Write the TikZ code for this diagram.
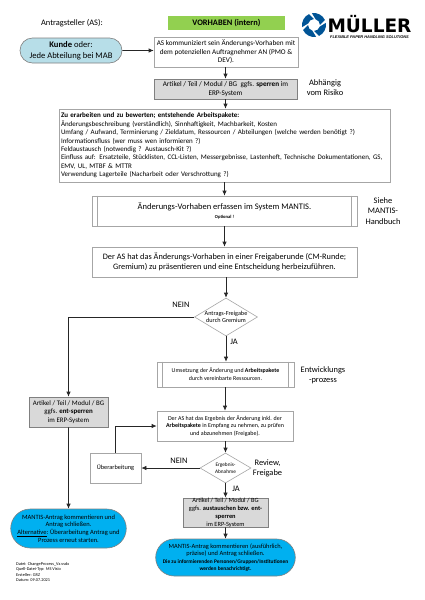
\documentclass[tikz,border=0pt]{standalone}
\usepackage{fontspec}
\setmainfont{Carlito}
\newfontfamily\logofont{DejaVu Sans}
\newfontfamily\sloganfont{Liberation Sans}
\usetikzlibrary{shapes.geometric,shapes.misc,arrows.meta}
\definecolor{boxgrey}{RGB}{166,166,166}
\definecolor{lockgrey}{RGB}{217,217,217}
\definecolor{startblue}{RGB}{183,222,232}
\definecolor{endblue}{RGB}{0,176,240}
\definecolor{headgreen}{RGB}{146,208,80}
\definecolor{logoblue}{RGB}{0,84,150}
\tikzset{
  stepbox/.style={draw=boxgrey, line width=0.7pt, fill=white, align=center, inner sep=1pt, font=\fontsize{7.2}{8.6}\selectfont},
  lockbox/.style={stepbox, fill=lockgrey, draw=gray},
  decision/.style={diamond, draw=boxgrey, line width=0.6pt, fill=white, inner sep=0pt},
  startend/.style={rounded rectangle, draw=gray, line width=0.6pt, align=center, inner sep=1pt},
  remark/.style={align=center, font=\fontsize{8.4}{10.2}\selectfont},
  flow/.style={-{Latex[length=5pt,width=4.5pt]}, line width=0.7pt, black!85}
}
\begin{document}
\begin{tikzpicture}[x=1pt,y=-1pt]
\useasboundingbox (0,0) rectangle (424,600);

% header
\node (applicant) at (72,23.5) [remark] {Antragsteller (AS):};
\node (title) at (226.5,23) [fill=headgreen, minimum width=117pt, minimum height=14pt, inner sep=0pt, font=\fontsize{8.4}{9}\selectfont\bfseries] {VORHABEN (intern)};

% logo
\begin{scope}[shift={(314,25)}, yscale=-1]
\foreach \ang in {0,90,180,270}{
  \fill [logoblue, rotate=\ang] (100:12) arc (100:25:12) -- (0:6) arc (0:75:6) -- cycle;
}
\end{scope}
\node (brand) at (369.5,32) [anchor=base, inner sep=0pt, font=\logofont\fontsize{18.5}{20}\selectfont\bfseries] {MÜLLER};
\node (slogan) at (369.5,38.5) [anchor=base, inner sep=0pt, font=\sloganfont\fontsize{3.9}{5}\selectfont\bfseries\itshape] {FLEXIBLE PAPER HANDLING SOLUTIONS};

% main column
\node (customer) at (71,50.5) [startend, fill=startblue, minimum width=104pt, minimum height=25pt, font=\fontsize{8.6}{10.5}\selectfont] {\textbf{Kunde} oder:\\Jede Abteilung bei MAB};
\node (inform) at (226,52) [stepbox, minimum width=144pt, minimum height=30pt] {AS kommuniziert sein Änderungs-Vorhaben mit\\dem potenziellen Auftragnehmer AN (PMO \&\\DEV).};
\node (lock) at (225.5,89) [lockbox, minimum width=143pt, minimum height=20pt] {Artikel / Teil / Modul / BG\ \ ggfs. \textbf{sperren} im\\ERP-System};
\node (risk) at (325,88) [remark] {Abhängig\\vom Risiko};
\node (packages) at (224.5,145.5) [stepbox, minimum width=331pt, minimum height=73pt, text width=327pt, align=left, font=\fontsize{7}{8.4}\selectfont] {\textbf{Zu erarbeiten und zu bewerten; entstehende Arbeitspakete:}\\
Änderungsbeschreibung (verständlich), Sinnhaftigkeit, Machbarkeit, Kosten\\
Umfang / Aufwand, Terminierung / Zieldatum, Ressourcen / Abteilungen (welche werden benötigt ?)\\
Informationsfluss (wer muss wen informieren ?)\\
Feldaustausch (notwendig ? Austausch-Kit ?)\\
Einfluss auf: Ersatzteile, Stücklisten, CCL-Listen, Messergebnisse, Lastenheft, Technische Dokumentationen, GS,\\
EMV, UL, MTBF \& MTTR\\
Verwendung Lagerteile (Nacharbeit oder Verschrottung ?)};
\node (record) at (224.5,211) [stepbox, minimum width=265pt, minimum height=30pt] {{\fontsize{8.5}{10}\selectfont Änderungs-Vorhaben erfassen im System MANTIS.}\\{\fontsize{4.6}{5}\selectfont\bfseries Optional !}};
\draw [boxgrey, line width=0.7pt] ([xshift=6pt]record.north west) -- ([xshift=6pt]record.south west);
\draw [boxgrey, line width=0.7pt] ([xshift=-6pt]record.north east) -- ([xshift=-6pt]record.south east);
\node (manual) at (383,211) [remark] {Siehe\\MANTIS-\\Handbuch};
\node (present) at (224.5,262) [stepbox, minimum width=265pt, minimum height=30pt, font=\fontsize{8.3}{10.5}\selectfont] {Der AS hat das Änderungs-Vorhaben in einer Freigaberunde (CM-Runde;\\Gremium) zu präsentieren und eine Entscheidung herbeizuführen.};
\node (release) at (226,317) [decision, minimum width=63pt, minimum height=38pt, aspect=1.65] {};
\node (releasetext) at (226,317) [font=\fontsize{6.2}{7.6}\selectfont, align=center, inner sep=0pt] {Antrags-Freigabe\\durch Gremium};
\node (work) at (225.5,374.5) [stepbox, minimum width=137pt, minimum height=25pt, font=\fontsize{5.9}{7.7}\selectfont] {Umsetzung der Änderung und \textbf{Arbeitspakete}\\durch vereinbarte Ressourcen.};
\draw [boxgrey, line width=0.7pt] ([xshift=6pt]work.north west) -- ([xshift=6pt]work.south west);
\draw [boxgrey, line width=0.7pt] ([xshift=-6pt]work.north east) -- ([xshift=-6pt]work.south east);
\node (devproc) at (323,375) [remark] {Entwicklungs\\-prozess};
\node (accept) at (225,426) [stepbox, minimum width=136pt, minimum height=30pt, font=\fontsize{6}{7.8}\selectfont] {Der AS hat das Ergebnis der Änderung inkl. der\\\textbf{Arbeitspakete} in Empfang zu nehmen, zu prüfen\\und abzunehmen (Freigabe).};
\node (result) at (225.5,468) [decision, minimum width=51pt, minimum height=30pt, aspect=1.7] {};
\node (resulttext) at (225.5,468) [font=\fontsize{5.3}{7}\selectfont, align=center, inner sep=0pt] {Ergebnis-\\Abnahme};
\node (rework) at (115.5,468) [stepbox, minimum width=51pt, minimum height=30pt, font=\fontsize{6.3}{7}\selectfont] {Überarbeitung};
\node (review) at (267.5,468) [remark] {Review,\\Freigabe};
\node (swap) at (225.5,512.5) [lockbox, minimum width=85pt, minimum height=29pt, inner sep=0pt, font=\fontsize{6.4}{7.9}\selectfont] {Artikel / Teil / Modul / BG\\ggfs. \textbf{austauschen bzw. ent-}\\\textbf{sperren}\\im ERP-System};
\node (closeok) at (225.5,557.5) [startend, fill=endblue, minimum width=137pt, minimum height=37pt, font=\fontsize{6.4}{7.3}\selectfont] {MANTIS-Antrag kommentieren (ausführlich,\\präzise) und Antrag schließen.\\{\fontsize{5.4}{7}\selectfont\bfseries Die zu informierenden Personen/Gruppen/Institutionen}\\{\fontsize{5.4}{7}\selectfont\bfseries werden benachrichtigt.}};

% left column
\node (unlock) at (68.5,412) [lockbox, minimum width=79pt, minimum height=30pt, font=\fontsize{6.9}{8.5}\selectfont] {Artikel / Teil / Modul / BG\\ggfs. \textbf{ent-sperren}\\im ERP-System};
\node (closeno) at (68.5,528.5) [startend, fill=endblue, minimum width=111pt, minimum height=39pt, font=\fontsize{6.5}{7.7}\selectfont] {MANTIS-Antrag kommentieren und\\Antrag schließen.\\\underline{Alternative}: Überarbeitung Antrag und\\Prozess erneut starten.};

% branch labels
\node (no1) at (181,305) [remark] {NEIN};
\node (yes1) at (234,342) [remark] {JA};
\node (no2) at (179,461) [remark] {NEIN};
\node (yes2) at (236,489) [remark] {JA};

% footer
\node (fileinfo) at (16,572) [anchor=west, align=left, inner sep=0pt, font=\fontsize{4.3}{5.2}\selectfont] {Datei: ChangeProcess\_Vx.vsdx\\Quell-Datei-Typ: MS Visio\\Ersteller: GRZ\\Datum: 09.07.2021};

% connectors
\draw [flow] (customer) -- (customer -| inform.west);
\draw [flow] (inform.south -| lock) -- (lock);
\draw [flow] (lock) -- (lock |- packages.north);
\draw [flow] (packages.south -| record) -- (record);
\draw [flow] (record) -- (present);
\draw [flow] (present.south -| release) -- (release);
\draw [flow] (release) -- (work.north -| release);
\draw [flow] (release) -| (unlock);
\draw [flow] (unlock) -- (closeno);
\draw [flow] (work.south -| accept) -- (accept);
\draw [flow] (accept.south -| result) -- (result);
\draw [flow] (result) -- (rework);
\draw [flow] (rework) |- (accept);
\draw [flow] (result) -- (swap);
\draw [flow] (swap) -- (closeok);
\end{tikzpicture}
\end{document}
